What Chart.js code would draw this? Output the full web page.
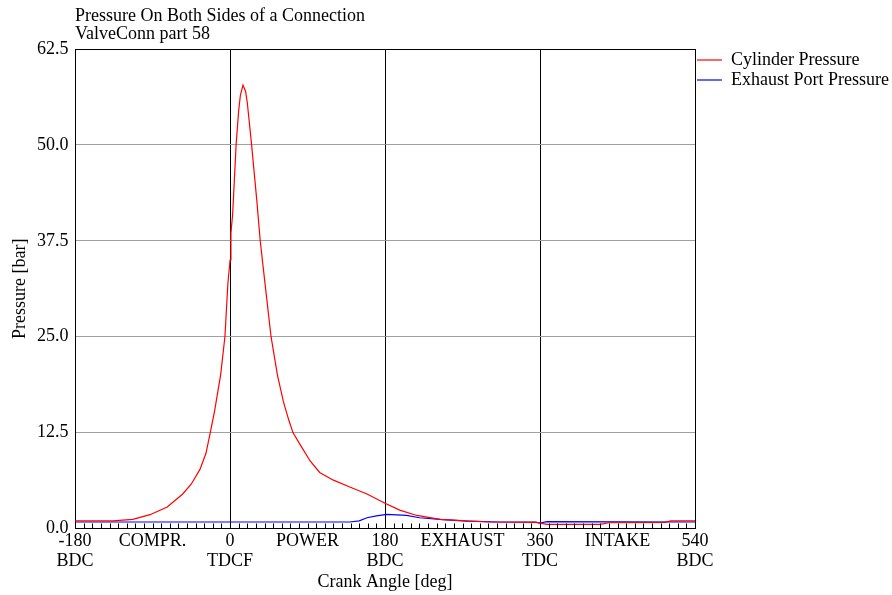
<!DOCTYPE html>
<html>
<head>
<meta charset="utf-8">
<script src="https://cdn.jsdelivr.net/npm/chart.js@4/dist/chart.umd.min.js"></script>
<style>
  html, body { margin: 0; padding: 0; background: #fff; }
  #wrap { width: 892px; height: 595px; }
</style>
</head>
<body>
<div id="wrap"><canvas id="pressureChart" width="892" height="595"></canvas></div>
<script>
// =======================
// Data
// =======================
const titleLines = ["Pressure On Both Sides of a Connection", "ValveConn part 58"];

const cylinderAngle = [-180, -160, -136, -113, -93, -73, -55, -45, -35, -28, -23, -18, -14, -11, -6, -2.5, 0, 1, 3, 7, 10, 12, 15, 18, 20, 25, 31, 35, 40, 47.6, 55, 62, 68, 73, 81, 93, 104, 120, 139, 159, 180, 197, 217, 244, 275, 300, 355, 368, 430, 440, 505, 512, 540];
const cylinderPressure = [1.0, 1.0, 1.0, 1.2, 1.8, 2.8, 4.5, 5.8, 7.7, 9.8, 12.5, 15.3, 18.0, 20.0, 25.0, 32.0, 35.0, 38.5, 41.0, 50.0, 54.5, 56.5, 57.8, 57.0, 55.5, 50.0, 42.8, 37.5, 32.5, 25.0, 20.0, 16.5, 14.2, 12.5, 11.0, 8.8, 7.3, 6.3, 5.4, 4.5, 3.3, 2.4, 1.7, 1.2, 1.0, 0.85, 0.8, 0.55, 0.55, 0.75, 0.8, 1.0, 1.0];

const exhaustAngle = [-180, 139, 150, 159, 170, 182, 205, 220, 247, 275, 314, 355, 360, 368, 540];
const exhaustPressure = [0.85, 0.85, 1.0, 1.4, 1.65, 1.85, 1.7, 1.4, 1.15, 0.95, 0.85, 0.85, 0.7, 0.9, 0.85];

const xTickValues = [-180, -90, 0, 90, 180, 270, 360, 450, 540];
const xTickLine1 = ["-180", "COMPR.", "0", "POWER", "180", "EXHAUST", "360", "INTAKE", "540"];
const xTickLine2 = ["BDC", "", "TDCF", "", "BDC", "", "TDC", "", "BDC"];
const blackXLines = [-180, 0, 180, 360, 540];

const FONT = "'Liberation Serif', 'Times New Roman', serif";

function toPoints(xs, ys) {
  return xs.map((x, i) => ({ x: x, y: ys[i] }));
}

// =======================
// Plugins
// =======================
// two-line title sitting above the plot's left edge
const topTitle = {
  id: 'topTitle',
  afterDraw(chart) {
    const ctx = chart.ctx;
    ctx.save();
    ctx.font = "18px " + FONT;
    ctx.fillStyle = '#000';
    ctx.textBaseline = 'middle';
    ctx.textAlign = 'left';
    titleLines.forEach((t, i) => ctx.fillText(t, chart.chartArea.left, 16 + i * 18));
    ctx.restore();
  }
};

// small ticks every 10 deg along the bottom, inside the plot
const minorTicks = {
  id: 'minorTicks',
  afterDraw(chart) {
    const xs = chart.scales.x;
    const bottom = chart.chartArea.bottom;
    const ctx = chart.ctx;
    ctx.save();
    ctx.strokeStyle = '#000';
    ctx.lineWidth = 1;
    ctx.beginPath();
    for (let a = -170; a < 540; a += 10) {
      const px = Math.round(xs.getPixelForValue(a)) + 0.5;
      ctx.moveTo(px, bottom);
      ctx.lineTo(px, bottom - 5);
    }
    ctx.stroke();
    ctx.restore();
  }
};

// =======================
// Chart
// =======================
new Chart(document.getElementById('pressureChart'), {
  type: 'line',
  data: {
    datasets: [
      {
        label: 'Cylinder Pressure',
        data: toPoints(cylinderAngle, cylinderPressure),
        borderColor: '#ff0000',
        backgroundColor: '#ff0000',
        borderWidth: 1.2,
        pointRadius: 0,
        tension: 0,
        fill: false
      },
      {
        label: 'Exhaust Port Pressure',
        data: toPoints(exhaustAngle, exhaustPressure),
        borderColor: '#0000ff',
        backgroundColor: '#0000ff',
        borderWidth: 1.2,
        pointRadius: 0,
        tension: 0,
        fill: false
      }
    ]
  },
  options: {
    responsive: false,
    animation: false,
    devicePixelRatio: 1,
    layout: { padding: { top: 49, left: 9, right: -7, bottom: 0 } },
    scales: {
      x: {
        type: 'linear',
        min: -180,
        max: 540,
        afterBuildTicks(scale) {
          scale.ticks = xTickValues.map(v => ({ value: v }));
        },
        ticks: {
          autoSkip: false,
          maxRotation: 0,
          padding: 2,
          color: '#000',
          font: { family: FONT, size: 18, lineHeight: 1.15 },
          callback(value) {
            const i = xTickValues.indexOf(value);
            if (i < 0) return '';
            return xTickLine2[i] ? [xTickLine1[i], xTickLine2[i]] : [xTickLine1[i]];
          }
        },
        grid: {
          drawTicks: false,
          lineWidth: 1,
          color: ctx => (ctx.tick && blackXLines.includes(ctx.tick.value)) ? '#000' : 'rgba(0,0,0,0)'
        },
        border: { color: '#000', width: 1 },
        title: {
          display: true,
          text: 'Crank Angle [deg]',
          color: '#000',
          font: { family: FONT, size: 18, lineHeight: 1.2 },
          padding: { top: -2.5, bottom: 2 }
        }
      },
      y: {
        min: 0,
        max: 62.5,
        ticks: {
          stepSize: 12.5,
          padding: 6.5,
          color: '#000',
          font: { family: FONT, size: 18 },
          callback: v => v.toFixed(1)
        },
        grid: {
          drawTicks: false,
          lineWidth: 1,
          color: ctx => (ctx.tick && (ctx.tick.value === 62.5 || ctx.tick.value === 0)) ? '#000' : '#a0a0a0'
        },
        border: { color: '#000', width: 1 },
        title: {
          display: true,
          text: 'Pressure [bar]',
          color: '#000',
          font: { family: FONT, size: 18, lineHeight: 1.2 },
          padding: { top: 0, bottom: 0 }
        }
      }
    },
    plugins: {
      legend: {
        position: 'right',
        align: 'start',
        labels: {
          color: '#000',
          font: { family: FONT, size: 18 },
          usePointStyle: true,
          pointStyle: 'line',
          pointStyleWidth: 25,
          padding: 2
        }
      },
      tooltip: { enabled: false }
    }
  },
  plugins: [topTitle, minorTicks]
});
</script>
</body>
</html>
